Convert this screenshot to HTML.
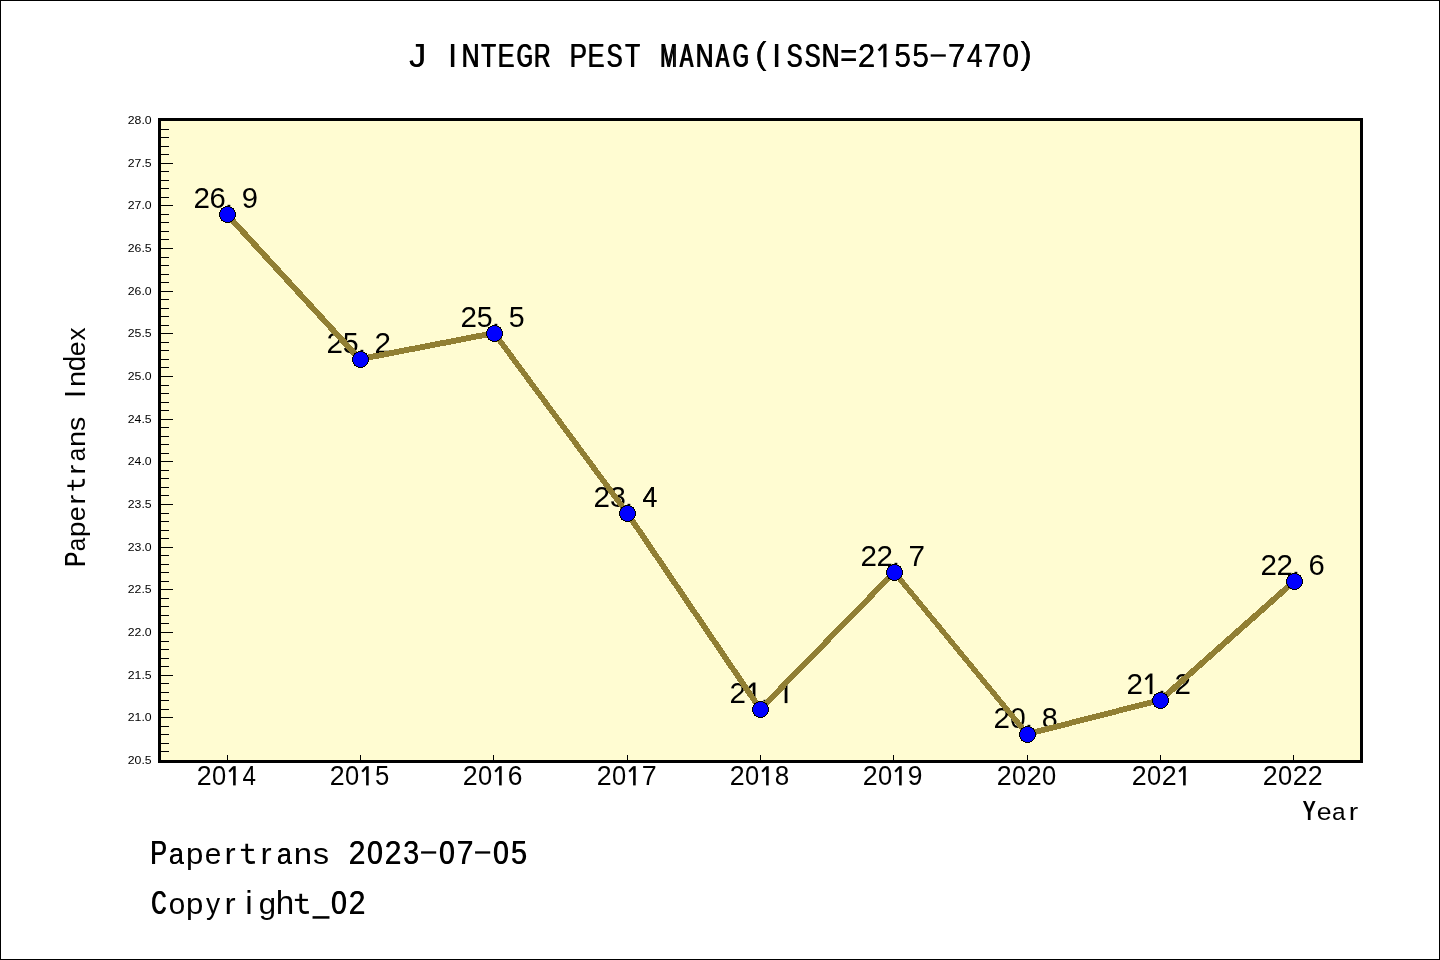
<!DOCTYPE html>
<html><head><meta charset="utf-8"><title>J INTEGR PEST MANAG</title>
<style>html,body{margin:0;padding:0;background:#fff;overflow:hidden}svg{display:block;will-change:transform}text{font-family:"Liberation Sans",sans-serif}</style>
</head><body>
<svg width="1440" height="960" viewBox="0 0 1440 960">
<rect x="0.5" y="0.5" width="1439" height="959" fill="#fff" stroke="#000" stroke-width="1"/>
<rect x="161" y="121" width="1199" height="639" fill="#fffcd2"/>
<path d="M161 751.5h8M161 743.5h8M161 734.5h8M161 726.5h8M161 717.5h12M161 709.5h8M161 700.5h8M161 692.5h8M161 683.5h8M161 675.5h12M161 666.5h8M161 658.5h8M161 649.5h8M161 641.5h8M161 632.5h12M161 623.5h8M161 615.5h8M161 606.5h8M161 598.5h8M161 589.5h12M161 581.5h8M161 572.5h8M161 564.5h8M161 555.5h8M161 547.5h12M161 538.5h8M161 530.5h8M161 521.5h8M161 513.5h8M161 504.5h12M161 495.5h8M161 487.5h8M161 478.5h8M161 470.5h8M161 461.5h12M161 453.5h8M161 444.5h8M161 436.5h8M161 427.5h8M161 419.5h12M161 410.5h8M161 402.5h8M161 393.5h8M161 385.5h8M161 376.5h12M161 367.5h8M161 359.5h8M161 350.5h8M161 342.5h8M161 333.5h12M161 325.5h8M161 316.5h8M161 308.5h8M161 299.5h8M161 291.5h12M161 282.5h8M161 274.5h8M161 265.5h8M161 257.5h8M161 248.5h12M161 239.5h8M161 231.5h8M161 222.5h8M161 214.5h8M161 205.5h12M161 197.5h8M161 188.5h8M161 180.5h8M161 171.5h8M161 163.5h12M161 154.5h8M161 146.5h8M161 137.5h8M161 129.5h8" stroke="#000" stroke-width="1" shape-rendering="crispEdges" fill="none"/>
<path d="M227.5 755v5M360.5 755v5M493.5 755v5M627.5 755v5M760.5 755v5M893.5 755v5M1027.5 755v5M1160.5 755v5M1293.5 755v5" stroke="#000" stroke-width="1" shape-rendering="crispEdges" fill="none"/>
<rect x="159.5" y="119.5" width="1202" height="642" fill="none" stroke="#000" stroke-width="3" shape-rendering="crispEdges"/>
<g font-family="Liberation Sans, sans-serif" fill="#000"><text transform="translate(151.7 764.2) scale(1.07 1)" text-anchor="end" font-size="11.5">20.5</text><text transform="translate(151.7 721.2) scale(1.07 1)" text-anchor="end" font-size="11.5">21.0</text><text transform="translate(151.7 679.2) scale(1.07 1)" text-anchor="end" font-size="11.5">21.5</text><text transform="translate(151.7 636.2) scale(1.07 1)" text-anchor="end" font-size="11.5">22.0</text><text transform="translate(151.7 593.2) scale(1.07 1)" text-anchor="end" font-size="11.5">22.5</text><text transform="translate(151.7 551.2) scale(1.07 1)" text-anchor="end" font-size="11.5">23.0</text><text transform="translate(151.7 508.2) scale(1.07 1)" text-anchor="end" font-size="11.5">23.5</text><text transform="translate(151.7 465.2) scale(1.07 1)" text-anchor="end" font-size="11.5">24.0</text><text transform="translate(151.7 423.2) scale(1.07 1)" text-anchor="end" font-size="11.5">24.5</text><text transform="translate(151.7 380.2) scale(1.07 1)" text-anchor="end" font-size="11.5">25.0</text><text transform="translate(151.7 337.2) scale(1.07 1)" text-anchor="end" font-size="11.5">25.5</text><text transform="translate(151.7 295.2) scale(1.07 1)" text-anchor="end" font-size="11.5">26.0</text><text transform="translate(151.7 252.2) scale(1.07 1)" text-anchor="end" font-size="11.5">26.5</text><text transform="translate(151.7 209.2) scale(1.07 1)" text-anchor="end" font-size="11.5">27.0</text><text transform="translate(151.7 167.2) scale(1.07 1)" text-anchor="end" font-size="11.5">27.5</text><text transform="translate(151.7 124.2) scale(1.07 1)" text-anchor="end" font-size="11.5">28.0</text></g>
<g font-family="Liberation Sans, sans-serif" fill="#000">
<text transform="translate(204.10 785.40) scale(0.956 1.000)" x="-7.79" font-size="28.00">2</text>
<text transform="translate(219.10 785.40) scale(0.911 1.000)" x="-7.79" font-size="28.00">0</text>
<rect x="233.10" y="766.14" width="2.60" height="19.26"/>
<path d="M233.40 767.31L229.20 771.72" stroke="#000" stroke-width="2.21" fill="none"/>
<text transform="translate(249.10 785.40) scale(0.865 1.000)" x="-7.70" font-size="28.00">4</text>
<text transform="translate(337.10 785.40) scale(0.956 1.000)" x="-7.79" font-size="28.00">2</text>
<text transform="translate(352.10 785.40) scale(0.911 1.000)" x="-7.79" font-size="28.00">0</text>
<rect x="366.10" y="766.14" width="2.60" height="19.26"/>
<path d="M366.40 767.31L362.20 771.72" stroke="#000" stroke-width="2.21" fill="none"/>
<text transform="translate(382.10 785.40) scale(0.919 1.000)" x="-7.76" font-size="28.00">5</text>
<text transform="translate(470.10 785.40) scale(0.956 1.000)" x="-7.79" font-size="28.00">2</text>
<text transform="translate(485.10 785.40) scale(0.911 1.000)" x="-7.79" font-size="28.00">0</text>
<rect x="499.10" y="766.14" width="2.60" height="19.26"/>
<path d="M499.40 767.31L495.20 771.72" stroke="#000" stroke-width="2.21" fill="none"/>
<text transform="translate(515.10 785.40) scale(0.944 1.000)" x="-7.88" font-size="28.00">6</text>
<text transform="translate(604.10 785.40) scale(0.956 1.000)" x="-7.79" font-size="28.00">2</text>
<text transform="translate(619.10 785.40) scale(0.911 1.000)" x="-7.79" font-size="28.00">0</text>
<rect x="633.10" y="766.14" width="2.60" height="19.26"/>
<path d="M633.40 767.31L629.20 771.72" stroke="#000" stroke-width="2.21" fill="none"/>
<text transform="translate(649.10 785.40) scale(0.958 1.000)" x="-7.80" font-size="28.00">7</text>
<text transform="translate(737.10 785.40) scale(0.956 1.000)" x="-7.79" font-size="28.00">2</text>
<text transform="translate(752.10 785.40) scale(0.911 1.000)" x="-7.79" font-size="28.00">0</text>
<rect x="766.10" y="766.14" width="2.60" height="19.26"/>
<path d="M766.40 767.31L762.20 771.72" stroke="#000" stroke-width="2.21" fill="none"/>
<text transform="translate(782.10 785.40) scale(0.929 1.000)" x="-7.79" font-size="28.00">8</text>
<text transform="translate(870.10 785.40) scale(0.956 1.000)" x="-7.79" font-size="28.00">2</text>
<text transform="translate(885.10 785.40) scale(0.911 1.000)" x="-7.79" font-size="28.00">0</text>
<rect x="899.10" y="766.14" width="2.60" height="19.26"/>
<path d="M899.40 767.31L895.20 771.72" stroke="#000" stroke-width="2.21" fill="none"/>
<text transform="translate(915.10 785.40) scale(0.943 1.000)" x="-7.78" font-size="28.00">9</text>
<text transform="translate(1004.10 785.40) scale(0.956 1.000)" x="-7.79" font-size="28.00">2</text>
<text transform="translate(1019.10 785.40) scale(0.911 1.000)" x="-7.79" font-size="28.00">0</text>
<text transform="translate(1034.10 785.40) scale(0.956 1.000)" x="-7.79" font-size="28.00">2</text>
<text transform="translate(1049.10 785.40) scale(0.911 1.000)" x="-7.79" font-size="28.00">0</text>
<text transform="translate(1139.10 785.40) scale(0.956 1.000)" x="-7.79" font-size="28.00">2</text>
<text transform="translate(1154.10 785.40) scale(0.911 1.000)" x="-7.79" font-size="28.00">0</text>
<text transform="translate(1169.10 785.40) scale(0.956 1.000)" x="-7.79" font-size="28.00">2</text>
<rect x="1183.10" y="766.14" width="2.60" height="19.26"/>
<path d="M1183.40 767.31L1179.20 771.72" stroke="#000" stroke-width="2.21" fill="none"/>
<text transform="translate(1270.10 785.40) scale(0.956 1.000)" x="-7.79" font-size="28.00">2</text>
<text transform="translate(1285.10 785.40) scale(0.911 1.000)" x="-7.79" font-size="28.00">0</text>
<text transform="translate(1300.10 785.40) scale(0.956 1.000)" x="-7.79" font-size="28.00">2</text>
<text transform="translate(1315.10 785.40) scale(0.956 1.000)" x="-7.79" font-size="28.00">2</text>
</g>
<g font-family="Liberation Sans, sans-serif" fill="#000">
<text transform="translate(201.75 208.10) scale(0.991 1.000)" x="-8.31" font-size="29.90">2</text>
<text transform="translate(217.75 208.10) scale(0.978 1.000)" x="-8.42" font-size="29.90">6</text>
<text transform="translate(228.95 208.10) scale(1.000 1.000)" x="-4.15" font-size="29.90">.</text>
<text transform="translate(249.75 208.10) scale(0.977 1.000)" x="-8.31" font-size="29.90">9</text>
<text transform="translate(334.75 353.10) scale(0.991 1.000)" x="-8.31" font-size="29.90">2</text>
<text transform="translate(350.75 353.10) scale(0.952 1.000)" x="-8.29" font-size="29.90">5</text>
<text transform="translate(361.95 353.10) scale(1.000 1.000)" x="-4.15" font-size="29.90">.</text>
<text transform="translate(382.75 353.10) scale(0.991 1.000)" x="-8.31" font-size="29.90">2</text>
<text transform="translate(468.75 327.10) scale(0.991 1.000)" x="-8.31" font-size="29.90">2</text>
<text transform="translate(484.75 327.10) scale(0.952 1.000)" x="-8.29" font-size="29.90">5</text>
<text transform="translate(495.95 327.10) scale(1.000 1.000)" x="-4.15" font-size="29.90">.</text>
<text transform="translate(516.75 327.10) scale(0.952 1.000)" x="-8.29" font-size="29.90">5</text>
<text transform="translate(601.75 507.10) scale(0.991 1.000)" x="-8.31" font-size="29.90">2</text>
<text transform="translate(617.75 507.10) scale(0.952 1.000)" x="-8.23" font-size="29.90">3</text>
<text transform="translate(628.95 507.10) scale(1.000 1.000)" x="-4.15" font-size="29.90">.</text>
<text transform="translate(649.67 507.10) scale(0.887 1.000)" x="-8.22" font-size="29.90">4</text>
<text transform="translate(649.83 507.10) scale(0.887 1.000)" x="-8.22" font-size="29.90">4</text>
<text transform="translate(737.75 703.10) scale(0.991 1.000)" x="-8.31" font-size="29.90">2</text>
<rect x="752.66" y="682.53" width="2.78" height="20.57"/>
<path d="M752.96 683.78L748.50 688.49" stroke="#000" stroke-width="2.36" fill="none"/>
<text transform="translate(764.95 703.10) scale(1.000 1.000)" x="-4.15" font-size="29.90">.</text>
<rect x="784.66" y="682.53" width="2.78" height="20.57"/>
<path d="M784.96 683.78L780.50 688.49" stroke="#000" stroke-width="2.36" fill="none"/>
<text transform="translate(868.75 566.10) scale(0.991 1.000)" x="-8.31" font-size="29.90">2</text>
<text transform="translate(884.75 566.10) scale(0.991 1.000)" x="-8.31" font-size="29.90">2</text>
<text transform="translate(895.95 566.10) scale(1.000 1.000)" x="-4.15" font-size="29.90">.</text>
<text transform="translate(916.75 566.10) scale(0.993 1.000)" x="-8.33" font-size="29.90">7</text>
<text transform="translate(1001.75 728.10) scale(0.991 1.000)" x="-8.31" font-size="29.90">2</text>
<text transform="translate(1017.75 728.10) scale(0.945 1.000)" x="-8.31" font-size="29.90">0</text>
<text transform="translate(1028.95 728.10) scale(1.000 1.000)" x="-4.15" font-size="29.90">.</text>
<text transform="translate(1049.75 728.10) scale(0.962 1.000)" x="-8.31" font-size="29.90">8</text>
<text transform="translate(1134.75 694.10) scale(0.991 1.000)" x="-8.31" font-size="29.90">2</text>
<rect x="1149.66" y="673.53" width="2.78" height="20.57"/>
<path d="M1149.96 674.78L1145.50 679.49" stroke="#000" stroke-width="2.36" fill="none"/>
<text transform="translate(1161.95 694.10) scale(1.000 1.000)" x="-4.15" font-size="29.90">.</text>
<text transform="translate(1182.75 694.10) scale(0.991 1.000)" x="-8.31" font-size="29.90">2</text>
<text transform="translate(1268.75 575.10) scale(0.991 1.000)" x="-8.31" font-size="29.90">2</text>
<text transform="translate(1284.75 575.10) scale(0.991 1.000)" x="-8.31" font-size="29.90">2</text>
<text transform="translate(1295.95 575.10) scale(1.000 1.000)" x="-4.15" font-size="29.90">.</text>
<text transform="translate(1316.75 575.10) scale(0.978 1.000)" x="-8.42" font-size="29.90">6</text>
</g>
<path d="M223.00 214.50 L231.00 214.50 L364.00 359.50 L356.00 359.50Z M360.50 356.00 L494.50 330.00 L494.50 336.00 L360.50 362.00Z M491.00 333.50 L498.00 333.50 L631.00 513.50 L624.00 513.50Z M624.00 513.50 L631.00 513.50 L764.00 709.50 L757.00 709.50Z M756.00 709.50 L764.00 709.50 L898.00 572.50 L890.00 572.50Z M891.00 572.50 L898.00 572.50 L1031.00 734.50 L1024.00 734.50Z M1027.50 731.00 L1160.50 697.00 L1160.50 703.00 L1027.50 737.00Z M1160.50 696.00 L1294.50 577.00 L1294.50 585.00 L1160.50 704.00Z" fill="#917f33" shape-rendering="crispEdges"/>
<circle cx="227.50" cy="214.50" r="8" fill="#0000ff" stroke="#000" stroke-width="1" shape-rendering="crispEdges"/>
<circle cx="360.50" cy="359.50" r="8" fill="#0000ff" stroke="#000" stroke-width="1" shape-rendering="crispEdges"/>
<circle cx="494.50" cy="333.50" r="8" fill="#0000ff" stroke="#000" stroke-width="1" shape-rendering="crispEdges"/>
<circle cx="627.50" cy="513.50" r="8" fill="#0000ff" stroke="#000" stroke-width="1" shape-rendering="crispEdges"/>
<circle cx="760.50" cy="709.50" r="8" fill="#0000ff" stroke="#000" stroke-width="1" shape-rendering="crispEdges"/>
<circle cx="894.50" cy="572.50" r="8" fill="#0000ff" stroke="#000" stroke-width="1" shape-rendering="crispEdges"/>
<circle cx="1027.50" cy="734.50" r="8" fill="#0000ff" stroke="#000" stroke-width="1" shape-rendering="crispEdges"/>
<circle cx="1160.50" cy="700.50" r="8" fill="#0000ff" stroke="#000" stroke-width="1" shape-rendering="crispEdges"/>
<circle cx="1294.50" cy="581.50" r="8" fill="#0000ff" stroke="#000" stroke-width="1" shape-rendering="crispEdges"/>
<g font-family="Liberation Sans, sans-serif" fill="#000">
<text transform="translate(416.56 67.20) scale(1.000 1.000)" x="-7.50" font-size="34.00">J</text>
<text transform="translate(416.64 67.20) scale(1.000 1.000)" x="-7.50" font-size="34.00">J</text>
<text transform="translate(452.56 67.20) scale(1.000 1.000)" x="-4.72" font-size="34.00">I</text>
<text transform="translate(452.64 67.20) scale(1.000 1.000)" x="-4.72" font-size="34.00">I</text>
<text transform="translate(470.12 67.20) scale(0.720 1.000)" x="-12.29" font-size="34.00">N</text>
<text transform="translate(471.08 67.20) scale(0.720 1.000)" x="-12.29" font-size="34.00">N</text>
<text transform="translate(488.11 67.20) scale(0.710 1.000)" x="-10.38" font-size="34.00">T</text>
<text transform="translate(489.09 67.20) scale(0.710 1.000)" x="-10.38" font-size="34.00">T</text>
<text transform="translate(506.16 67.20) scale(0.746 1.000)" x="-12.00" font-size="34.00">E</text>
<text transform="translate(507.04 67.20) scale(0.746 1.000)" x="-12.00" font-size="34.00">E</text>
<text transform="translate(523.94 67.20) scale(0.601 1.000)" x="-12.81" font-size="34.00">G</text>
<text transform="translate(525.26 67.20) scale(0.601 1.000)" x="-12.81" font-size="34.00">G</text>
<text transform="translate(542.05 67.20) scale(0.671 1.000)" x="-12.88" font-size="34.00">R</text>
<text transform="translate(543.15 67.20) scale(0.671 1.000)" x="-12.88" font-size="34.00">R</text>
<text transform="translate(578.19 67.20) scale(0.763 1.000)" x="-11.84" font-size="34.00">P</text>
<text transform="translate(579.01 67.20) scale(0.763 1.000)" x="-11.84" font-size="34.00">P</text>
<text transform="translate(596.16 67.20) scale(0.746 1.000)" x="-12.00" font-size="34.00">E</text>
<text transform="translate(597.04 67.20) scale(0.746 1.000)" x="-12.00" font-size="34.00">E</text>
<text transform="translate(614.09 67.20) scale(0.695 1.000)" x="-11.33" font-size="34.00">S</text>
<text transform="translate(615.11 67.20) scale(0.695 1.000)" x="-11.33" font-size="34.00">S</text>
<text transform="translate(632.11 67.20) scale(0.710 1.000)" x="-10.38" font-size="34.00">T</text>
<text transform="translate(633.09 67.20) scale(0.710 1.000)" x="-10.38" font-size="34.00">T</text>
<text transform="translate(667.91 67.20) scale(0.584 1.000)" x="-14.16" font-size="34.00">M</text>
<text transform="translate(669.29 67.20) scale(0.584 1.000)" x="-14.16" font-size="34.00">M</text>
<text transform="translate(685.92 67.20) scale(0.590 1.000)" x="-11.34" font-size="34.00">A</text>
<text transform="translate(687.28 67.20) scale(0.590 1.000)" x="-11.34" font-size="34.00">A</text>
<text transform="translate(704.12 67.20) scale(0.720 1.000)" x="-12.29" font-size="34.00">N</text>
<text transform="translate(705.08 67.20) scale(0.720 1.000)" x="-12.29" font-size="34.00">N</text>
<text transform="translate(721.92 67.20) scale(0.590 1.000)" x="-11.34" font-size="34.00">A</text>
<text transform="translate(723.28 67.20) scale(0.590 1.000)" x="-11.34" font-size="34.00">A</text>
<text transform="translate(739.94 67.20) scale(0.601 1.000)" x="-12.81" font-size="34.00">G</text>
<text transform="translate(741.26 67.20) scale(0.601 1.000)" x="-12.81" font-size="34.00">G</text>
<text transform="translate(761.91 63.70) scale(1.000 0.920)" x="-6.62" font-size="34.00">(</text>
<text transform="translate(761.99 63.70) scale(1.000 0.920)" x="-6.62" font-size="34.00">(</text>
<text transform="translate(776.56 67.20) scale(1.000 1.000)" x="-4.72" font-size="34.00">I</text>
<text transform="translate(776.64 67.20) scale(1.000 1.000)" x="-4.72" font-size="34.00">I</text>
<text transform="translate(794.09 67.20) scale(0.695 1.000)" x="-11.33" font-size="34.00">S</text>
<text transform="translate(795.11 67.20) scale(0.695 1.000)" x="-11.33" font-size="34.00">S</text>
<text transform="translate(812.09 67.20) scale(0.695 1.000)" x="-11.33" font-size="34.00">S</text>
<text transform="translate(813.11 67.20) scale(0.695 1.000)" x="-11.33" font-size="34.00">S</text>
<text transform="translate(830.12 67.20) scale(0.720 1.000)" x="-12.29" font-size="34.00">N</text>
<text transform="translate(831.08 67.20) scale(0.720 1.000)" x="-12.29" font-size="34.00">N</text>
<text transform="translate(848.33 67.20) scale(0.850 1.000)" x="-9.92" font-size="34.00">=</text>
<text transform="translate(848.87 67.20) scale(0.850 1.000)" x="-9.92" font-size="34.00">=</text>
<text transform="translate(866.43 67.20) scale(0.918 1.000)" x="-9.45" font-size="34.00">2</text>
<text transform="translate(866.77 67.20) scale(0.918 1.000)" x="-9.45" font-size="34.00">2</text>
<rect x="883.32" y="43.81" width="3.16" height="23.39"/>
<path d="M883.62 45.23L878.58 50.59" stroke="#000" stroke-width="2.68" fill="none"/>
<text transform="translate(902.37 67.20) scale(0.875 1.000)" x="-9.42" font-size="34.00">5</text>
<text transform="translate(902.83 67.20) scale(0.875 1.000)" x="-9.42" font-size="34.00">5</text>
<text transform="translate(920.37 67.20) scale(0.875 1.000)" x="-9.42" font-size="34.00">5</text>
<text transform="translate(920.83 67.20) scale(0.875 1.000)" x="-9.42" font-size="34.00">5</text>
<rect x="930.68" y="54.35" width="15.12" height="2.31"/>
<text transform="translate(956.44 67.20) scale(0.921 1.000)" x="-9.47" font-size="34.00">7</text>
<text transform="translate(956.76 67.20) scale(0.921 1.000)" x="-9.47" font-size="34.00">7</text>
<text transform="translate(974.27 67.20) scale(0.814 1.000)" x="-9.35" font-size="34.00">4</text>
<text transform="translate(974.93 67.20) scale(0.814 1.000)" x="-9.35" font-size="34.00">4</text>
<text transform="translate(992.44 67.20) scale(0.921 1.000)" x="-9.47" font-size="34.00">7</text>
<text transform="translate(992.76 67.20) scale(0.921 1.000)" x="-9.47" font-size="34.00">7</text>
<text transform="translate(1010.35 67.20) scale(0.867 1.000)" x="-9.45" font-size="34.00">0</text>
<text transform="translate(1010.85 67.20) scale(0.867 1.000)" x="-9.45" font-size="34.00">0</text>
<text transform="translate(1025.21 63.70) scale(1.000 0.920)" x="-4.71" font-size="34.00">)</text>
<text transform="translate(1025.29 63.70) scale(1.000 0.920)" x="-4.71" font-size="34.00">)</text>
<text transform="translate(158.54 864.00) scale(0.741 1.000)" x="-11.66" font-size="33.50">P</text>
<text transform="translate(159.46 864.00) scale(0.741 1.000)" x="-11.66" font-size="33.50">P</text>
<text transform="translate(176.93 864.00) scale(0.806 0.860)" x="-10.03" font-size="33.50">a</text>
<text transform="translate(177.07 864.00) scale(0.806 0.860)" x="-10.03" font-size="33.50">a</text>
<text transform="translate(195.00 864.00) scale(0.929 0.860)" x="-9.69" font-size="33.50">p</text>
<text transform="translate(213.00 864.00) scale(0.891 0.860)" x="-9.28" font-size="33.50">e</text>
<text transform="translate(231.00 864.00) scale(1.000 0.860)" x="-6.41" font-size="33.50">r</text>
<path d="M246.75 843.72V858.24Q246.75 862.65 251.25 862.65L254.90 862.25" stroke="#000" stroke-width="2.70" fill="none"/>
<rect x="240.90" y="848.84" width="13.00" height="2.20"/>
<text transform="translate(267.00 864.00) scale(1.000 0.860)" x="-6.41" font-size="33.50">r</text>
<text transform="translate(284.93 864.00) scale(0.806 0.860)" x="-10.03" font-size="33.50">a</text>
<text transform="translate(285.07 864.00) scale(0.806 0.860)" x="-10.03" font-size="33.50">a</text>
<text transform="translate(303.00 864.00) scale(0.984 0.860)" x="-9.34" font-size="33.50">n</text>
<text transform="translate(321.00 864.00) scale(0.958 0.860)" x="-8.24" font-size="33.50">s</text>
<text transform="translate(356.77 864.00) scale(0.893 1.000)" x="-9.32" font-size="33.50">2</text>
<text transform="translate(357.23 864.00) scale(0.893 1.000)" x="-9.32" font-size="33.50">2</text>
<text transform="translate(374.70 864.00) scale(0.842 1.000)" x="-9.32" font-size="33.50">0</text>
<text transform="translate(375.30 864.00) scale(0.842 1.000)" x="-9.32" font-size="33.50">0</text>
<text transform="translate(392.77 864.00) scale(0.893 1.000)" x="-9.32" font-size="33.50">2</text>
<text transform="translate(393.23 864.00) scale(0.893 1.000)" x="-9.32" font-size="33.50">2</text>
<text transform="translate(410.71 864.00) scale(0.851 1.000)" x="-9.22" font-size="33.50">3</text>
<text transform="translate(411.29 864.00) scale(0.851 1.000)" x="-9.22" font-size="33.50">3</text>
<rect x="421.08" y="851.34" width="15.12" height="2.28"/>
<text transform="translate(446.70 864.00) scale(0.842 1.000)" x="-9.32" font-size="33.50">0</text>
<text transform="translate(447.30 864.00) scale(0.842 1.000)" x="-9.32" font-size="33.50">0</text>
<text transform="translate(464.78 864.00) scale(0.895 1.000)" x="-9.33" font-size="33.50">7</text>
<text transform="translate(465.22 864.00) scale(0.895 1.000)" x="-9.33" font-size="33.50">7</text>
<rect x="475.08" y="851.34" width="15.12" height="2.28"/>
<text transform="translate(500.70 864.00) scale(0.842 1.000)" x="-9.32" font-size="33.50">0</text>
<text transform="translate(501.30 864.00) scale(0.842 1.000)" x="-9.32" font-size="33.50">0</text>
<text transform="translate(518.71 864.00) scale(0.851 1.000)" x="-9.28" font-size="33.50">5</text>
<text transform="translate(519.29 864.00) scale(0.851 1.000)" x="-9.28" font-size="33.50">5</text>
<text transform="translate(158.33 914.00) scale(0.605 1.000)" x="-12.31" font-size="33.50">C</text>
<text transform="translate(159.67 914.00) scale(0.605 1.000)" x="-12.31" font-size="33.50">C</text>
<text transform="translate(177.00 914.00) scale(0.885 0.860)" x="-9.32" font-size="33.50">o</text>
<text transform="translate(195.00 914.00) scale(0.929 0.860)" x="-9.69" font-size="33.50">p</text>
<text transform="translate(213.00 914.00) scale(0.843 0.860)" x="-8.38" font-size="33.50">y</text>
<text transform="translate(231.00 914.00) scale(1.000 0.860)" x="-6.41" font-size="33.50">r</text>
<text transform="translate(249.00 914.00) scale(1.000 1.000)" x="-3.71" font-size="33.50">i</text>
<text transform="translate(267.00 914.00) scale(0.929 0.860)" x="-8.94" font-size="33.50">g</text>
<text transform="translate(285.00 914.00) scale(0.991 1.000)" x="-9.39" font-size="33.50">h</text>
<path d="M300.75 893.72V908.24Q300.75 912.65 305.25 912.65L308.90 912.25" stroke="#000" stroke-width="2.70" fill="none"/>
<rect x="294.90" y="898.84" width="13.00" height="2.20"/>
<rect x="312.54" y="916.18" width="16.92" height="2.51"/>
<text transform="translate(338.70 914.00) scale(0.842 1.000)" x="-9.32" font-size="33.50">0</text>
<text transform="translate(339.30 914.00) scale(0.842 1.000)" x="-9.32" font-size="33.50">0</text>
<text transform="translate(356.77 914.00) scale(0.893 1.000)" x="-9.32" font-size="33.50">2</text>
<text transform="translate(357.23 914.00) scale(0.893 1.000)" x="-9.32" font-size="33.50">2</text>
<text transform="translate(1308.71 820.30) scale(0.660 1.000)" x="-9.44" font-size="28.30">Y</text>
<text transform="translate(1309.69 820.30) scale(0.660 1.000)" x="-9.44" font-size="28.30">Y</text>
<text transform="translate(1324.20 820.30) scale(0.941 0.860)" x="-7.84" font-size="28.30">e</text>
<text transform="translate(1339.20 820.30) scale(0.860 0.860)" x="-8.47" font-size="28.30">a</text>
<text transform="translate(1354.20 820.30) scale(1.000 0.860)" x="-5.42" font-size="28.30">r</text>
<g transform="translate(84.9 566.4) rotate(-90)">
<text transform="translate(7.18 0.00) scale(0.775 1.000)" x="-10.10" font-size="29.00">P</text>
<text transform="translate(7.82 0.00) scale(0.775 1.000)" x="-10.10" font-size="29.00">P</text>
<text transform="translate(22.50 0.00) scale(0.839 0.860)" x="-8.68" font-size="29.00">a</text>
<text transform="translate(37.50 0.00) scale(0.958 0.860)" x="-8.39" font-size="29.00">p</text>
<text transform="translate(52.50 0.00) scale(0.919 0.860)" x="-8.04" font-size="29.00">e</text>
<text transform="translate(67.50 0.00) scale(1.000 0.860)" x="-5.55" font-size="29.00">r</text>
<path d="M80.62 -17.56V-4.99Q80.62 -1.13 84.38 -1.13L87.42 -1.46" stroke="#000" stroke-width="2.25" fill="none"/>
<rect x="75.75" y="-13.09" width="10.83" height="1.83"/>
<text transform="translate(97.50 0.00) scale(1.000 0.860)" x="-5.55" font-size="29.00">r</text>
<text transform="translate(112.50 0.00) scale(0.839 0.860)" x="-8.68" font-size="29.00">a</text>
<text transform="translate(127.50 0.00) scale(1.000 0.860)" x="-8.09" font-size="29.00">n</text>
<text transform="translate(142.50 0.00) scale(0.989 0.860)" x="-7.13" font-size="29.00">s</text>
<text transform="translate(172.50 0.00) scale(1.000 1.000)" x="-4.03" font-size="29.00">I</text>
<text transform="translate(187.50 0.00) scale(1.000 0.860)" x="-8.09" font-size="29.00">n</text>
<text transform="translate(202.50 0.00) scale(0.958 1.000)" x="-7.74" font-size="29.00">d</text>
<text transform="translate(217.50 0.00) scale(0.919 0.860)" x="-8.04" font-size="29.00">e</text>
<text transform="translate(232.50 0.00) scale(0.902 0.860)" x="-7.26" font-size="29.00">x</text>
</g>
</g>
</svg>
</body></html>
